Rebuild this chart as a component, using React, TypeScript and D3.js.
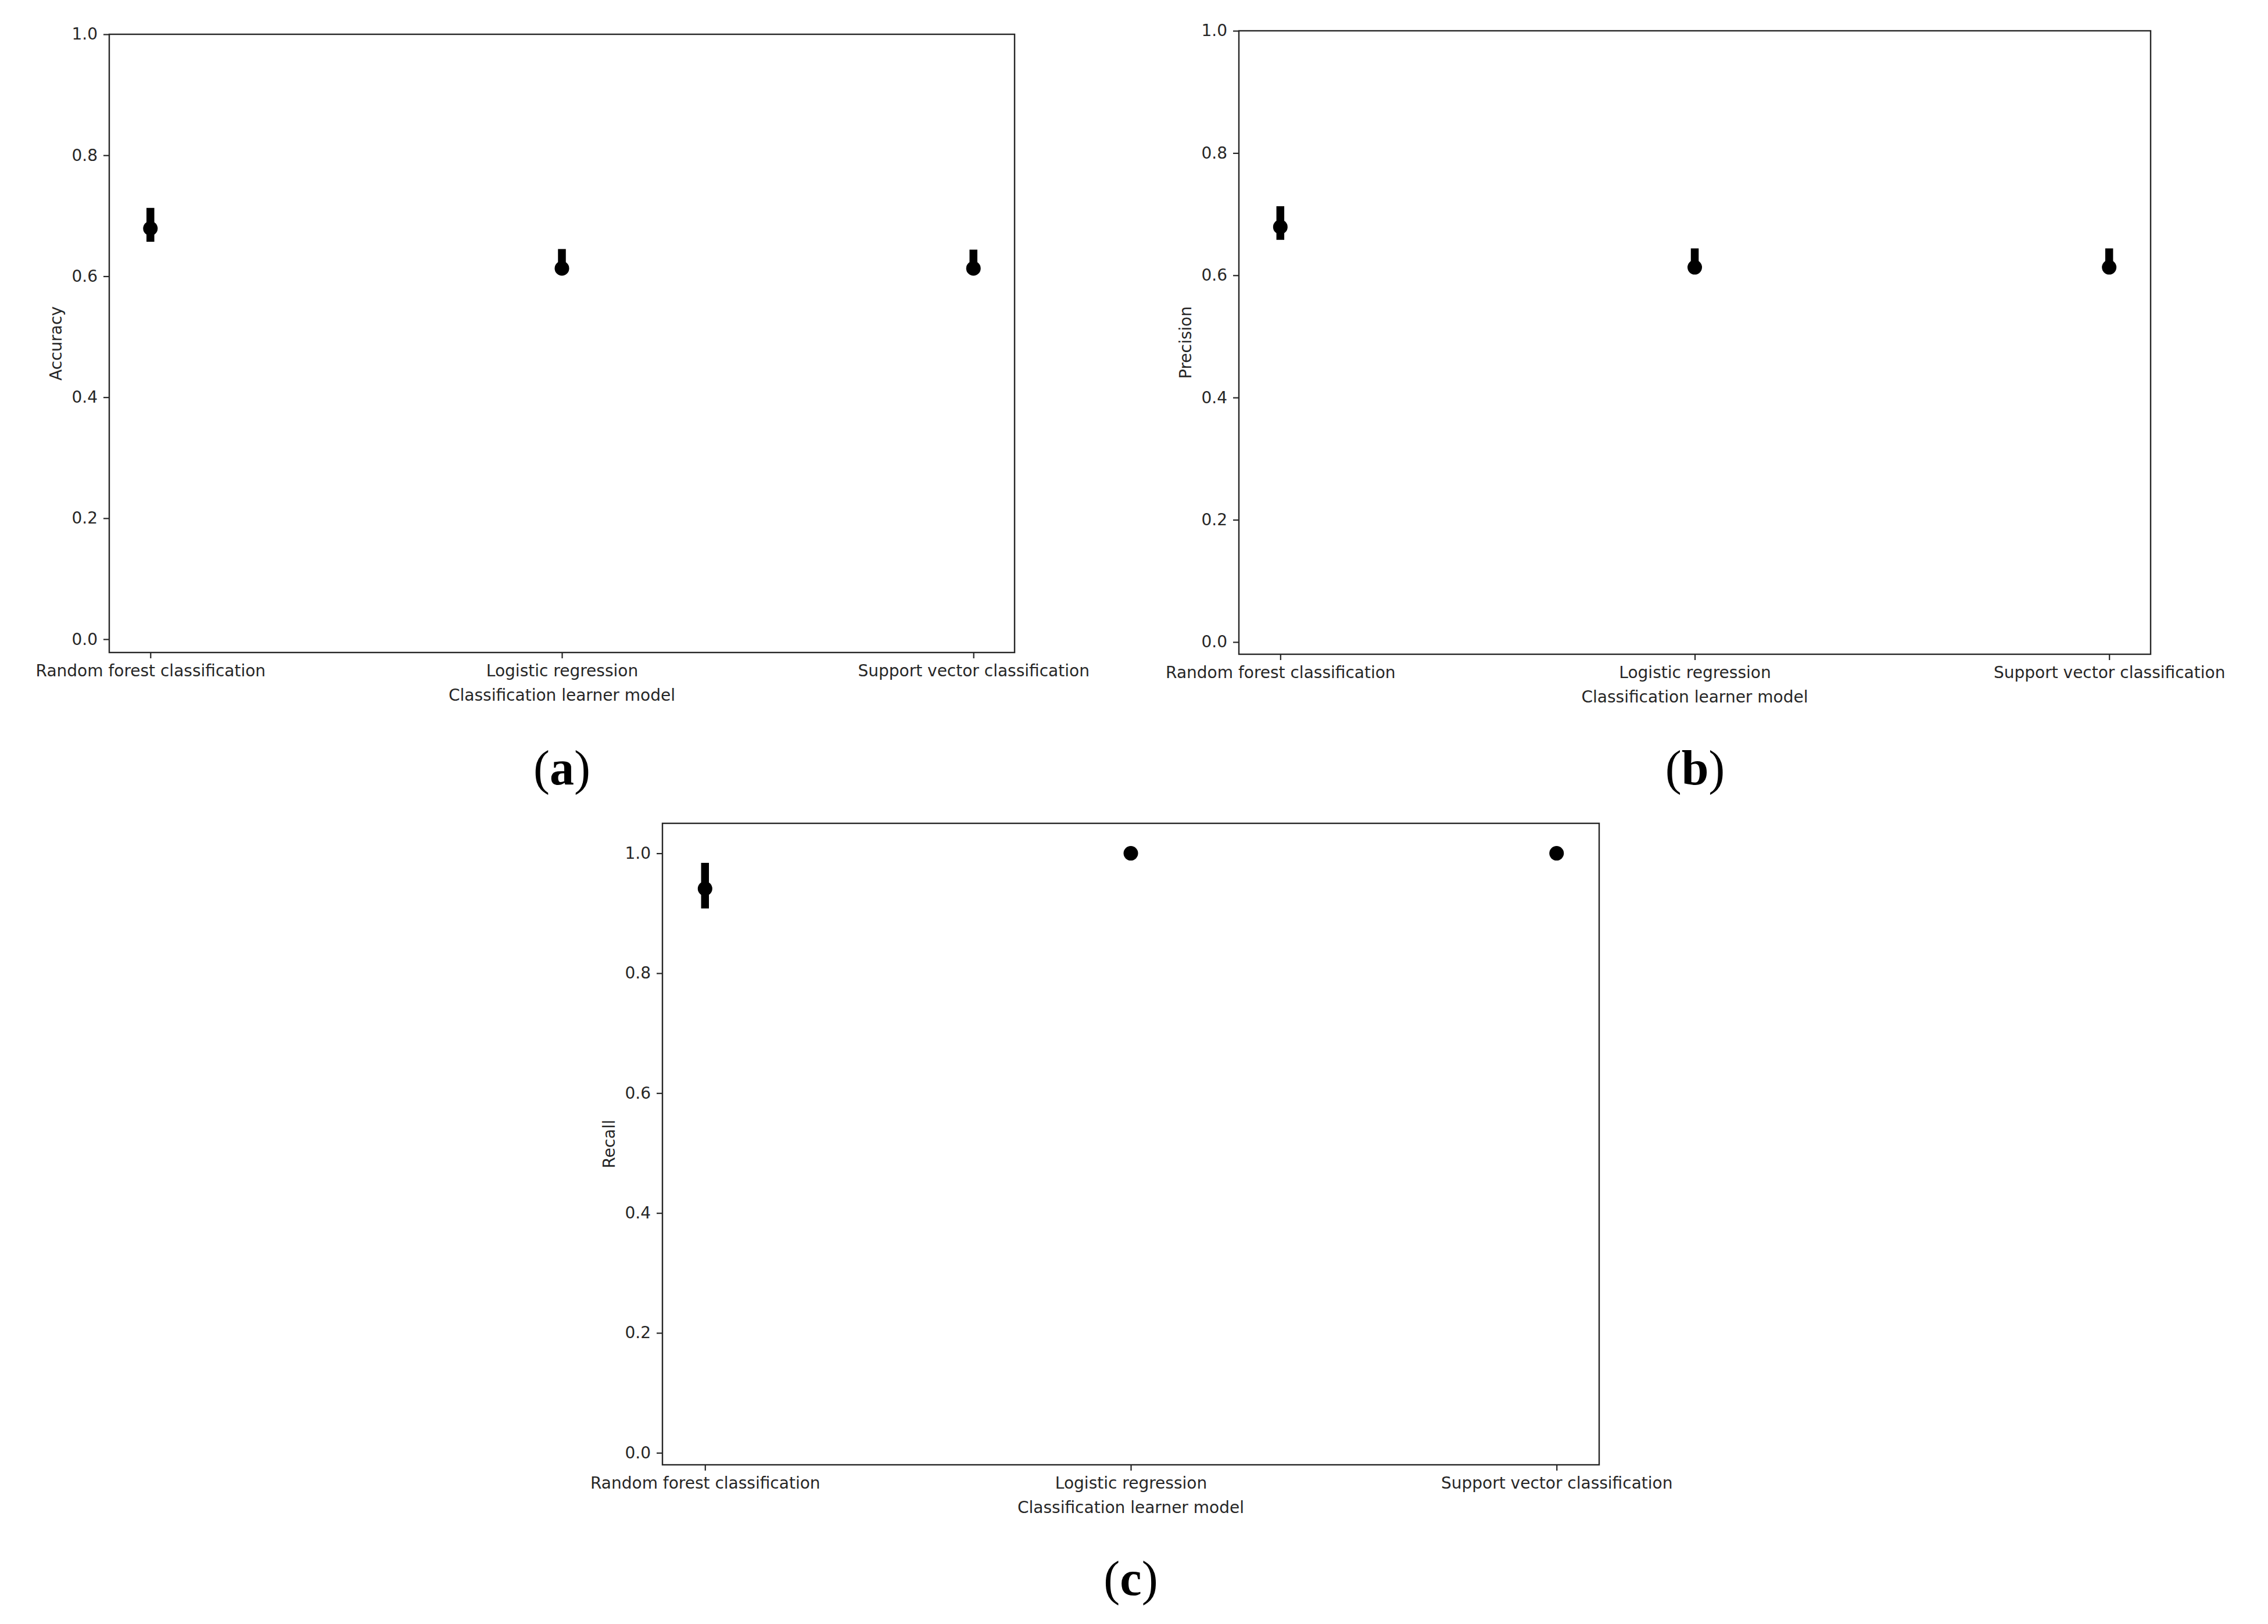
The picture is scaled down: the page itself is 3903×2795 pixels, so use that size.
import { useEffect, useRef } from 'react';
import * as d3 from 'd3';

// categories
const models = ['Random forest classification', 'Logistic regression', 'Support vector classification'];
const yTicks = [0.0, 0.2, 0.4, 0.6, 0.8, 1.0];

// point estimates and CI bounds
const accuracyMean = [0.679, 0.613, 0.613];
const accuracyLow = [0.657, 0.603, 0.603];
const accuracyHigh = [0.713, 0.645, 0.644];

const precisionMean = [0.679, 0.613, 0.613];
const precisionLow = [0.658, 0.603, 0.603];
const precisionHigh = [0.713, 0.644, 0.644];

const recallMean = [0.941, 1.0, 1.0];
const recallLow = [0.908, 1.0, 1.0];
const recallHigh = [0.984, 1.0, 1.0];

const TEXT = '#262626';
const FONT = 'DejaVu Sans';

const App = () => {
  const svgRef = useRef(null);

  useEffect(() => {
    const root = d3.select(svgRef.current);
    root.selectAll('*').remove();

    const panels = [
      {
        ylabel: 'Accuracy', caption: 'a', mean: accuracyMean, low: accuracyLow, high: accuracyHigh,
        left: 188, right: 1746, top: 59, bottom: 1123, ymin: -0.022, ymax: 1.0, capX: 967, capY: 1350,
      },
      {
        ylabel: 'Precision', caption: 'b', mean: precisionMean, low: precisionLow, high: precisionHigh,
        left: 2132, right: 3701, top: 53, bottom: 1126, ymin: -0.02, ymax: 1.0, capX: 2917, capY: 1350,
      },
      {
        ylabel: 'Recall', caption: 'c', mean: recallMean, low: recallLow, high: recallHigh,
        left: 1140, right: 2752, top: 1417, bottom: 2521, ymin: -0.02, ymax: 1.05, capX: 1946, capY: 2745,
      },
    ];

    panels.forEach((p) => {
      const g = root.append('g');

      const x = d3.scaleLinear().domain([-0.1, models.length - 0.9]).range([p.left, p.right]);
      const y = d3.scaleLinear().domain([p.ymin, p.ymax]).range([p.bottom, p.top]);

      // y axis ticks + labels
      const yAxis = g
        .append('g')
        .attr('transform', `translate(${p.left},0)`)
        .call(d3.axisLeft(y).tickValues(yTicks).tickFormat(d3.format('.1f')).tickSize(10).tickPadding(10));
      yAxis.select('.domain').remove();
      yAxis.selectAll('line').attr('stroke', TEXT).attr('stroke-width', 2.2);
      yAxis.selectAll('text').attr('fill', TEXT).style('font-family', FONT).style('font-size', '28px');

      // x axis ticks + labels
      const xAxis = g
        .append('g')
        .attr('transform', `translate(0,${p.bottom})`)
        .call(
          d3.axisBottom(x)
            .tickValues(d3.range(models.length))
            .tickFormat((i) => models[i])
            .tickSize(10)
            .tickPadding(10)
        );
      xAxis.select('.domain').remove();
      xAxis.selectAll('line').attr('stroke', TEXT).attr('stroke-width', 2.2);
      xAxis
        .selectAll('text')
        .attr('fill', TEXT)
        .attr('dy', null)
        .attr('y', 41)
        .style('font-family', FONT)
        .style('font-size', '28px');

      // frame
      g.append('rect')
        .attr('x', p.left)
        .attr('y', p.top)
        .attr('width', p.right - p.left)
        .attr('height', p.bottom - p.top)
        .attr('fill', 'none')
        .attr('stroke', TEXT)
        .attr('stroke-width', 2.4);

      // error bars
      g.selectAll('.ci')
        .data(models.map((m, i) => i))
        .enter()
        .append('line')
        .attr('class', 'ci')
        .attr('x1', (i) => x(i))
        .attr('x2', (i) => x(i))
        .attr('y1', (i) => y(p.low[i]))
        .attr('y2', (i) => y(p.high[i]))
        .attr('stroke', '#000')
        .attr('stroke-width', 13.5)
        .attr('stroke-linecap', 'butt');

      // points
      g.selectAll('.pt')
        .data(models.map((m, i) => i))
        .enter()
        .append('circle')
        .attr('class', 'pt')
        .attr('cx', (i) => x(i))
        .attr('cy', (i) => y(p.mean[i]))
        .attr('r', 12.5)
        .attr('fill', '#000');

      // axis labels
      g.append('text')
        .attr('transform', `translate(${p.left - 82},${(p.top + p.bottom) / 2}) rotate(-90)`)
        .attr('text-anchor', 'middle')
        .attr('fill', TEXT)
        .style('font-family', FONT)
        .style('font-size', '28px')
        .text(p.ylabel);

      g.append('text')
        .attr('x', (p.left + p.right) / 2)
        .attr('y', p.bottom + 83)
        .attr('text-anchor', 'middle')
        .attr('fill', TEXT)
        .style('font-family', FONT)
        .style('font-size', '28px')
        .text('Classification learner model');

      // panel caption (a)/(b)/(c)
      const cap = g
        .append('text')
        .attr('x', p.capX)
        .attr('y', p.capY)
        .attr('text-anchor', 'middle')
        .attr('fill', '#000')
        .style('font-family', 'Liberation Serif')
        .style('font-size', '84px');
      cap.append('tspan').text('(');
      cap.append('tspan').style('font-weight', 'bold').text(p.caption);
      cap.append('tspan').text(')');
    });
  }, []);

  return (
    <svg
      ref={svgRef}
      width={3903}
      height={2795}
      style={{ position: 'absolute', left: 0, top: 0, display: 'block', background: '#fff' }}
    ></svg>
  );
};

export default App;
